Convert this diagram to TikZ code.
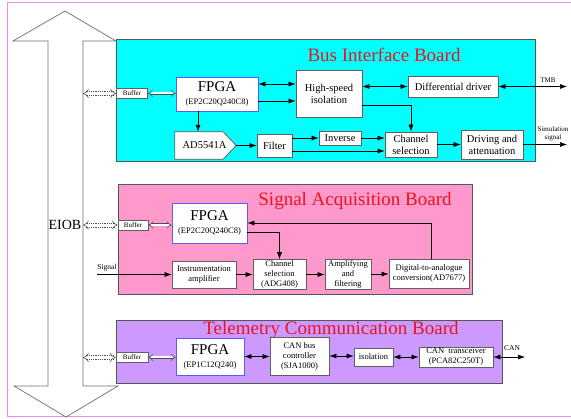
\documentclass[tikz,border=0pt]{standalone}
\usepackage{fontspec}
\setmainfont{Liberation Serif}
\usetikzlibrary{arrows.meta,calc}
\definecolor{cyanbg}{RGB}{0,255,255}
\definecolor{pinkbg}{RGB}{255,153,204}
\definecolor{purplebg}{RGB}{204,153,255}
\definecolor{boardc}{RGB}{85,85,95}
\definecolor{boxc}{RGB}{95,95,95}
\definecolor{fpgac}{RGB}{90,90,255}
\definecolor{titlec}{RGB}{235,20,30}
\definecolor{framec}{RGB}{240,140,240}
\definecolor{shaftc}{RGB}{110,110,110}
\newcommand\szTitle{\fontsize{19}{19}\selectfont}
\newcommand\szBig{\fontsize{15}{15}\selectfont}
\newcommand\szMid{\fontsize{10.5}{12}\selectfont}
\newcommand\szSm{\fontsize{8.5}{10}\selectfont}
\newcommand\szTiny{\fontsize{7}{8}\selectfont}
\tikzset{
  board/.style={draw=boardc, line width=0.8pt},
  boxa/.style={draw=boxc, fill=white, line width=0.8pt, align=center, inner sep=1pt, font=\szMid},
  boxb/.style={draw=boxc, fill=white, line width=0.8pt, align=center, inner sep=1pt, font=\szSm},
  fpgabox/.style={draw=fpgac, fill=white, line width=0.8pt, align=center, inner sep=1pt},
  bufbox/.style={draw=boxc, fill=white, line width=0.8pt, inner sep=0pt, font=\szTiny, minimum width=31pt, minimum height=10pt},
  titletext/.style={text=titlec, font=\szTitle, inner sep=0pt},
  sa/.style={line width=0.6pt, -{Latex[length=7pt,width=5pt]}},
  bia/.style={line width=0.6pt, {Latex[length=7pt,width=5pt]}-{Latex[length=7pt,width=5pt]}},
  hollow/.style={double, double distance=2pt, line width=0.5pt, draw=black!70, {Implies}-{Implies}},
  hollowtips/.style={double, double distance=2.6pt, line width=0.5pt, draw=black!70, dash pattern=on 0pt off 500pt, {Implies}-{Implies}},
  dotline/.style={line width=0.5pt, draw=black!70, dash pattern=on 1pt off 0.8pt, shorten <=2.5pt, shorten >=2.5pt},
  lbl/.style={inner sep=0pt, font=\szTiny, align=center}
}
\newcommand\dotarrow[2]{%
  \draw[hollowtips] (#1) -- (#2);
  \draw[dotline] ([yshift=1.8pt]#1) -- ([yshift=1.8pt]#2);
  \draw[dotline] ([yshift=-1.8pt]#1) -- ([yshift=-1.8pt]#2);}
\begin{document}
\begin{tikzpicture}[x=1pt,y=-1pt]
\useasboundingbox (0,0) rectangle (571,419);
% outer frame
\draw[framec, line width=1pt] (571,3) -- (7,3) -- (7,417) -- (571,417);
% big double arrow (EIOB)
\draw[shaftc, line width=0.7pt, fill=white] (65,11) -- (116,41) -- (83,41) -- (83,386) -- (118,386) -- (66,417) -- (14,386) -- (48,386) -- (48,41) -- (13,41) -- cycle;
\node[inner sep=0pt, font=\fontsize{14}{14}\selectfont] (eiob) at (65,225) {EIOB};
\coordinate (e1) at (83,93.5);
\coordinate (e2) at (83,225);
\coordinate (e3) at (83,357.5);

% ---------------- Bus Interface Board
\fill[cyanbg] (116,39) rectangle (535,161);
\draw[board] (116,39) rectangle (535,161);
\node[titletext] (t1) at (384,55) {Bus Interface Board};
\node[bufbox] (buf1) at (132,93.5) {Buffer};
\node[fpgabox, minimum width=82pt, minimum height=34pt] (fpga1) at (217,94)
  {{\szBig FPGA}\\[1pt]{\szSm (EP2C20Q240C8)}};
\node[boxa, minimum width=66pt, minimum height=47pt] (hsi) at (329,93.5) {High-speed\\isolation};
\node[boxa, minimum width=90pt, minimum height=21pt] (diff) at (453,86.5) {Differential driver};
\node[minimum width=61pt, minimum height=27pt, inner sep=0pt] (ad) at (205.5,145.5) {};
\draw[draw=boxc, fill=white, line width=0.8pt] (ad.north west) -- ([xshift=-13pt]ad.north east) -- (ad.east)
  -- ([xshift=-13pt]ad.south east) -- (ad.south west) -- cycle;
\node[font=\szMid, inner sep=0pt] (adt) at (204.5,145.5) {AD5541A};
\node[boxa, minimum width=35pt, minimum height=23pt] (filt) at (274.5,145.5) {Filter};
\node[boxa, minimum width=42pt, minimum height=14pt] (inv) at (340,138) {Inverse};
\node[boxa, minimum width=52pt, minimum height=25pt] (chsel) at (411,144.5) {Channel\\selection};
\node[boxa, minimum width=62pt, minimum height=29pt] (drv) at (492,144.5) {Driving and\\attenuation};
\coordinate (tmb) at (567,86.5);
\coordinate (sim) at (567,145);
\node[lbl] (tmbl) at (548,80) {TMB};
\node[lbl] (siml) at (553,134) {Simulation\\signal};

\dotarrow{e1}{buf1.west}
\draw[hollow] (buf1.east) -- (buf1.east -| fpga1.west);
\draw[bia] ([yshift=10pt]fpga1.east) coordinate (a1) -- (a1 -| hsi.west);
\draw[sa] ([yshift=-7pt]fpga1.east) coordinate (a2) -- (a2 -| hsi.west);
\draw[bia] (hsi.east |- diff.west) -- (diff.west);
\draw[bia] (diff.east) -- (tmb);
\draw[sa] ([yshift=-11.5pt]hsi.east) -| (chsel.north);
\draw[sa] ([xshift=-19pt]fpga1.south) coordinate (a3) -- (a3 |- ad.north);
\draw[sa] (ad.east) -- (ad.east -| filt.west);
\draw[sa] ([yshift=7.5pt]filt.east) coordinate (a4) -- (a4 -| inv.west);
\draw[sa] (inv.east) -- (inv.east -| chsel.west);
\draw[sa] ([yshift=-5.5pt]filt.east) coordinate (a5) -- (a5 -| chsel.west);
\draw[sa] (chsel.east) -- (chsel.east -| drv.west);
\draw[sa] (drv.east) -- (drv.east -| sim);

% ---------------- Signal Acquisition Board
\fill[pinkbg] (118,184) rectangle (472,294);
\draw[board] (118,184) rectangle (472,294);
\node[titletext] (t2) at (355,201) {Signal Acquisition Board};
\node[bufbox, minimum width=30pt] (buf2) at (133,225) {Buffer};
\node[fpgabox, minimum width=75pt, minimum height=40pt] (fpga2) at (209.5,223)
  {{\szBig FPGA}\\[1pt]{\szSm (EP2C20Q240C8)}};
\node[boxb, minimum width=64pt, minimum height=27pt] (ins) at (204,274.5) {Instrumentation\\amplifier};
\node[boxb, minimum width=53pt, minimum height=29pt] (chs2) at (279.5,274.5) {Channel\\selection\\(ADG408)};
\node[boxb, minimum width=46pt, minimum height=30pt] (amp) at (348,274) {Amplifying\\and\\filtering};
\node[boxb, minimum width=80pt, minimum height=29pt] (dac) at (429,273.5) {Digital-to-analogue\\conversion(AD7677)};
\coordinate (sig) at (97,274.5);
\node[lbl, font=\fontsize{7.5}{8}\selectfont] (sigl) at (107,268) {Signal};

\dotarrow{e2}{buf2.west}
\draw[hollow] (buf2.east) -- (buf2.east -| fpga2.west);
\draw[sa] (sig) -- (sig -| ins.west);
\draw[sa] (ins.east) -- (ins.east -| chs2.west);
\draw[sa] (chs2.east) -- (chs2.east -| amp.west);
\draw[sa] (amp.east) -- (amp.east -| dac.west);
\draw[sa] ([xshift=2pt]dac.north) |- (fpga2.east);
\draw[sa] ([yshift=-9pt]fpga2.east) -| (chs2.north);

% ---------------- Telemetry Communication Board
\fill[purplebg] (116,320) rectangle (502,383);
\draw[board] (116,320) rectangle (502,383);
\node[titletext] (t3) at (331,330) {Telemetry Communication Board};
\node[bufbox, minimum width=32pt] (buf3) at (132,357.5) {Buffer};
\node[fpgabox, minimum width=68pt, minimum height=37pt] (fpga3) at (210,356.5)
  {{\szBig FPGA}\\[1pt]{\szSm (EP1C12Q240)}};
\node[boxb, minimum width=59pt, minimum height=38pt] (canc) at (299.5,356) {CAN bus\\controller\\(SJA1000)};
\node[boxb, minimum width=39pt, minimum height=18pt] (iso) at (373.5,357) {isolation};
\node[boxb, minimum width=74pt, minimum height=20pt] (cant) at (456,357) {CAN\ \ transceiver\\(PCA82C250T)};
\coordinate (can) at (525,357);
\node[lbl, font=\fontsize{7.5}{8}\selectfont] (canl) at (512,348) {CAN};

\dotarrow{e3}{buf3.west}
\draw[hollow] (buf3.east) -- (buf3.east -| fpga3.west);
\draw[bia] (fpga3.east) -- (fpga3.east -| canc.west);
\draw[bia] (canc.east) -- (canc.east -| iso.west);
\draw[bia] (iso.east) -- (iso.east -| cant.west);
\draw[bia] (cant.east) -- (can);
\end{tikzpicture}
\end{document}
